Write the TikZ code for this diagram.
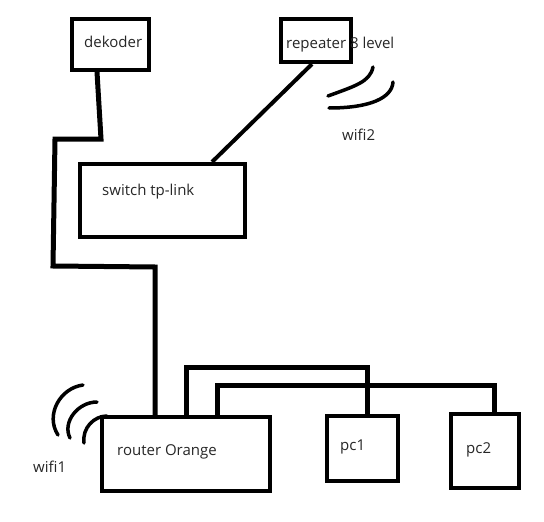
\documentclass[tikz,border=0pt]{standalone}
\usepackage{fontspec}
\setmainfont{Open Sans}
\usepackage{tikz}
\usetikzlibrary{positioning,calc}

\begin{document}
\begin{tikzpicture}[x=1pt,y=-1pt,
    every node/.style={font=\fontsize{15}{18}\selectfont},
    box/.style={draw, line width=4pt, inner sep=0pt},
    cable/.style={line width=5pt},
    wave/.style={line width=3.5pt, line cap=round},
    lbl/.style={anchor=base west, inner sep=0pt, text=black!85},
]
\useasboundingbox (0,0) rectangle (544,522);

% devices
\node[box, minimum width=77pt, minimum height=51pt] (dekoder) at (110.5,44.5) {};
\node[box, minimum width=70pt, minimum height=43pt] (repeater) at (316,40.5) {};
\node[box, minimum width=165pt, minimum height=73pt] (switch) at (162.5,200.5) {};
\node[box, minimum width=168pt, minimum height=74pt] (router) at (186,454) {};
\node[box, minimum width=71pt, minimum height=65pt] (pc1) at (362.5,448.5) {};
\node[box, minimum width=68pt, minimum height=74pt] (pc2) at (485,451) {};

% cables
\draw[cable] ([xshift=-13.5]dekoder.south) -- (101,139) -- (55,139) -- (53,266)
    -- (155,267) -- ([xshift=-31]router.north);
\draw[line width=4pt] ([xshift=-4]repeater.south) -- ([xshift=49.5]switch.north);
\draw[cable] (router.north) -- ++(0,-48) -| ([xshift=4.5]pc1.north);
\draw[cable] ([xshift=31]router.north) -- ++(0,-30) -| ([xshift=9]pc2.north);

% wifi waves
\draw[wave] (83,385) .. controls (60,388) and (45,415) .. (58,435);
\draw[wave] (97,402) .. controls (78,402) and (62,422) .. (70,438);
\draw[wave] (107,416) .. controls (94,416) and (82,428) .. (84,443);
\draw[wave] (373,67) .. controls (370,82) and (355,86) .. (328,96);
\draw[wave] (393,82) .. controls (392,98) and (370,108) .. (329,108);

% labels
\node[lbl] (dekoderlbl) at (84,47) {dekoder};
\node[lbl] (repeaterlbl) at (286,48) {repeater 8 level};
\node[lbl] (wifitwo) at (342,140) {wifi2};
\node[lbl] (switchlbl) at (102,195) {switch tp-link};
\node[lbl] (routerlbl) at (117,455) {router Orange};
\node[lbl] (pconelbl) at (340,450) {pc1};
\node[lbl] (pctwolbl) at (466,453) {pc2};
\node[lbl] (wifione) at (33,472) {wifi1};
\end{tikzpicture}
\end{document}
